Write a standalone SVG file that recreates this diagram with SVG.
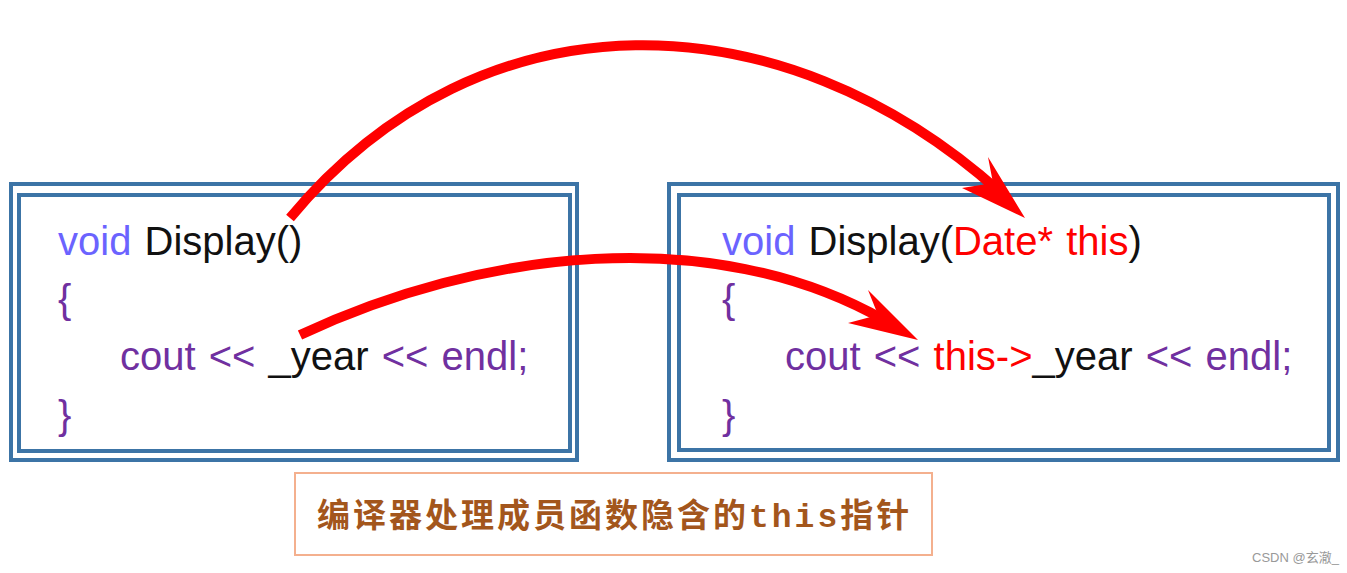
<svg xmlns="http://www.w3.org/2000/svg" width="1347" height="573" viewBox="0 0 1347 573">
<style>
.frame{fill:none;stroke:#3c74a6;stroke-width:4}
.code{font-family:"Liberation Sans",Arial,sans-serif;font-size:40px;word-spacing:2px}
.kw{fill:#6b63ff}
.pu{fill:#7030a0}
.bk{fill:#111}
.rd{fill:#ff0000}
.arc{fill:none;stroke:#ff0000;stroke-width:10;stroke-linecap:butt}
.head{fill:#ff0000}
.lbl{font-family:"Noto Sans CJK SC","Noto Sans CJK TC",sans-serif;font-size:33px;font-weight:bold;fill:#a3561c;letter-spacing:3px}
.mono{font-family:"Liberation Mono","Courier New",monospace;font-weight:bold}
</style>
<rect width="1347" height="573" fill="#ffffff"/>
<g id="left-box">
<rect class="frame" x="11" y="184" width="566" height="276"/>
<rect class="frame" x="19" y="195" width="551" height="256"/>
<text class="code" x="58" y="255"><tspan class="kw">void</tspan><tspan class="bk"> Display()</tspan></text>
<text class="code pu" x="58" y="313">{</text>
<text class="code" x="120" y="370"><tspan class="pu">cout &lt;&lt; </tspan><tspan class="bk">_year</tspan><tspan class="pu"> &lt;&lt; endl;</tspan></text>
<text class="code pu" x="58" y="429">}</text>
</g>
<g id="right-box">
<rect class="frame" x="669" y="184" width="669" height="276"/>
<rect class="frame" x="679" y="195" width="650" height="255"/>
<text class="code" x="722" y="255"><tspan class="kw">void</tspan><tspan class="bk"> Display(</tspan><tspan class="rd">Date* this</tspan><tspan class="bk">)</tspan></text>
<text class="code pu" x="722" y="313">{</text>
<text class="code" x="785" y="370"><tspan class="pu">cout &lt;&lt; </tspan><tspan class="rd">this-&gt;</tspan><tspan class="bk">_year</tspan><tspan class="pu"> &lt;&lt; endl;</tspan></text>
<text class="code pu" x="722" y="429">}</text>
</g>
<g id="label">
<rect x="295" y="473" width="637" height="82" fill="#ffffff" stroke="#f4b08e" stroke-width="2"/>
<text class="lbl" x="317" y="527">编译器处理成员函数隐含的<tspan class="mono">this</tspan>指针</text>
</g>
<g id="connectors">
<path class="arc" d="M290,218 C482,-13 783,-3 1000,192"/>
<polygon class="head" points="1025,218 988,157 993,183 962,188"/>
<path class="arc" d="M300,335 C481,250 711,222 884,320"/>
<polygon class="head" points="918,340 868,290 878,315 848,323"/>
</g>
<text x="1252" y="562" font-family="'Liberation Sans','Noto Sans CJK SC',sans-serif" font-size="13" fill="#999999">CSDN @玄澈_</text>
</svg>
